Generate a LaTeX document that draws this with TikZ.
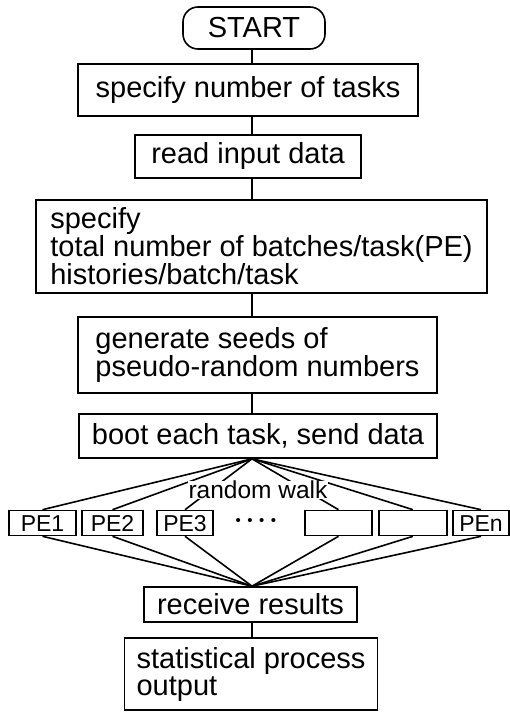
\documentclass[tikz,border=0pt]{standalone}
\usepackage{fontspec}
\setmainfont{Liberation Sans}
\begin{document}
\begin{tikzpicture}[x=1pt,y=-1pt,
  txt/.style={font=\fontsize{29}{27}\selectfont},
  fbox/.style={txt, draw, line width=1.6pt, inner xsep=12pt, inner ysep=0pt, align=left},
  pebox/.style={draw, line width=1.6pt, inner sep=0pt, minimum height=25pt,
    text height=16.5pt, text depth=0pt, font=\fontsize{23}{23}\selectfont},
  link/.style={line width=1.6pt}]
  \useasboundingbox (0,0) rectangle (510,712);

  % main column
  \node[fbox, rounded corners=15pt, minimum width=142pt, minimum height=42pt] (start) at (254,28) {START};
  \node[fbox, minimum width=340pt, minimum height=52pt] (ntask) at (248,90) {specify number of tasks};
  \node[fbox, minimum width=226pt, minimum height=43pt] (read) at (248,156.5) {read input data};
  \node[fbox, minimum width=451pt, minimum height=93pt] (batch) at (261.5,246.5)
    {specify\\total number of batches/task(PE)\\histories/batch/task};
  \node[fbox, minimum width=359pt, minimum height=76pt] (seeds) at (257.5,355)
    {generate seeds of\\pseudo-random numbers};
  \node[fbox, minimum width=358pt, minimum height=44pt] (boot) at (258,436) {boot each task, send data};

  % processing elements
  \node[pebox, minimum width=67pt] (pe1) at (42.5,523) {PE1};
  \node[pebox, minimum width=61pt] (pe2) at (112.5,523) {PE2};
  \node[pebox, minimum width=56pt] (pe3) at (185,523) {PE3};
  \node[font=\fontsize{15}{15}\selectfont, inner sep=0pt] (dots) at (256,522)
    {•\hspace{6.5pt}•\hspace{6.5pt}•\hspace{6.5pt}•};
  \node[pebox, minimum width=67pt] (pe4) at (338.5,523) {};
  \node[pebox, minimum width=68pt] (pe5) at (413,523) {};
  \node[pebox, minimum width=56pt] (pen) at (481,523) {PEn};

  \node[fbox, minimum width=213pt, minimum height=35pt] (recv) at (250.5,604.5) {receive results};
  \node[fbox, minimum width=252pt, minimum height=72pt] (stat) at (251,674)
    {statistical process\\output};

  % spine of the flow chart
  \coordinate (sp) at (252,0);
  \draw[link] (sp |- start.south) -- (sp |- ntask.north);
  \draw[link] (sp |- ntask.south) -- (sp |- read.north);
  \draw[link] (sp |- read.south) -- (sp |- batch.north);
  \draw[link] (sp |- batch.south) -- (sp |- seeds.north);
  \draw[link] (sp |- seeds.south) -- (sp |- boot.north);
  \draw[link] (sp |- recv.south) -- (sp |- stat.north);

  % fan out to the PEs and back in
  \coordinate (fanout) at (sp |- boot.south);
  \coordinate (fanin) at (sp |- recv.north);
  \foreach \p in {pe1,pe2,pe3,pe4,pe5,pen} {
    \draw[link] (fanout) -- (\p.north);
    \draw[link] (\p.south) -- (fanin);
  }
  \node[fill=white, inner xsep=1pt, inner ysep=0pt, font=\fontsize{24.5}{24.5}\selectfont] (walk) at (258,490) {random walk};
\end{tikzpicture}
\end{document}
